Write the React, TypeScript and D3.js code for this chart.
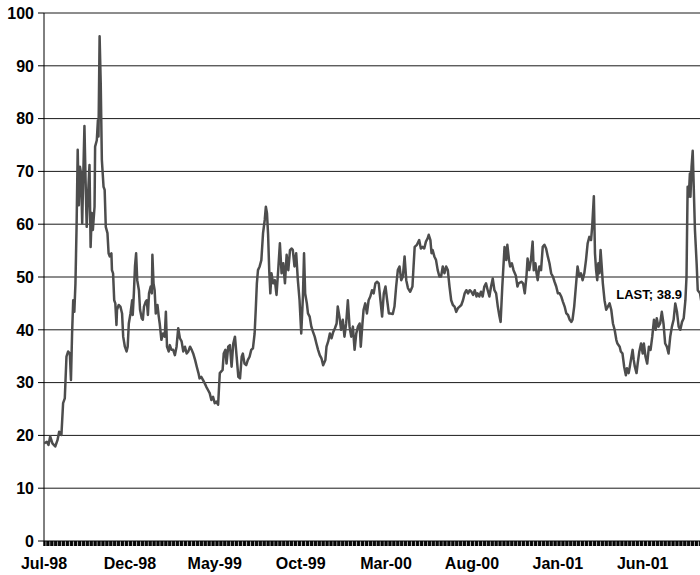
import React from "react";
import * as d3 from "d3";

// Series: implied volatility, days since 1 Jul 1998 and value
const START = "1998-07-01";
const END = "2001-09-11";
const dayOffsets = [
  0, 5, 8, 11, 15, 20, 24, 27, 31, 34, 37, 40, 43, 46, 48, 50, 52, 54, 56, 58, 60, 62, 64, 66, 68, 70, 72, 74, 76, 78,
  81, 83, 85, 87, 90, 91, 94, 96, 97, 99, 101, 103, 106, 108, 110, 113, 115, 117, 120, 121, 123, 125, 127, 129, 130,
  133, 136, 139, 141, 144, 147, 149, 151, 154, 157, 158, 160, 162, 164, 166, 169, 171, 174, 176, 178, 181, 183, 185,
  187, 190, 192, 193, 195, 197, 199, 202, 204, 206, 209, 212, 215, 217, 219, 222, 224, 227, 230, 233, 236, 239, 242,
  245, 248, 251, 254, 257, 260, 263, 266, 269, 272, 275, 277, 280, 283, 286, 289, 292, 295, 298, 301, 304, 307, 310,
  313, 318, 320, 323, 325, 328, 331, 334, 337, 340, 343, 346, 349, 352, 354, 357, 360, 363, 366, 369, 372, 375, 377,
  379, 381, 384, 387, 390, 393, 395, 397, 399, 401, 403, 405, 408, 411, 414, 417, 420, 423, 426, 429, 432, 435, 438,
  441, 443, 446, 449, 452, 455, 458, 461, 463, 465, 468, 470, 473, 476, 479, 482, 485, 488, 491, 494, 497, 501, 503,
  506, 509, 512, 515, 518, 521, 523, 526, 529, 532, 535, 538, 541, 544, 547, 550, 553, 556, 559, 562, 564, 567, 569,
  572, 575, 578, 581, 584, 587, 590, 593, 596, 599, 602, 605, 608, 611, 614, 617, 621, 624, 627, 630, 633, 636, 639,
  642, 645, 648, 652, 656, 658, 660, 664, 668, 671, 674, 677, 680, 683, 685, 688, 690, 692, 695, 698, 701, 704, 707,
  710, 713, 716, 719, 722, 725, 728, 731, 734, 737, 740, 743, 746, 749, 752, 755, 758, 761, 764, 767, 770, 772, 775,
  778, 781, 784, 787, 790, 793, 796, 799, 802, 805, 808, 811, 813, 816, 818, 820, 823, 825, 828, 830, 833, 836, 840,
  843, 845, 850, 853, 856, 859, 861, 864, 867, 870, 872, 875, 877, 879, 882, 885, 888, 891, 894, 897, 900, 903, 906,
  909, 912, 915, 918, 921, 924, 927, 930, 933, 936, 939, 941, 944, 947, 950, 953, 956, 959, 962, 965, 968, 971, 974,
  976, 979, 981, 983, 985, 987, 989, 991, 993, 995, 998, 1001, 1004, 1007, 1010, 1013, 1016, 1019, 1021, 1025, 1027,
  1030, 1033, 1036, 1038, 1041, 1043, 1045, 1048, 1050, 1052, 1055, 1057, 1060, 1063, 1066, 1068, 1071, 1074, 1077,
  1080, 1083, 1086, 1089, 1091, 1094, 1097, 1100, 1103, 1106, 1109, 1112, 1115, 1118, 1121, 1124, 1127, 1130, 1133,
  1136, 1139, 1142, 1144, 1145, 1146, 1148, 1150, 1151, 1153, 1155, 1157, 1159, 1162, 1164, 1168, 1180,
];
const values = [
  18.5, 18.8, 18.2, 19.8, 18.5, 17.9, 19.1, 20.7, 20.1, 26.1, 27.0, 34.9, 35.9, 35.5, 30.5, 39.3, 45.6, 43.4, 48.8, 59.5,
  74.1, 63.6, 70.9, 69.6, 60.2, 69.6, 78.6, 68.4, 59.5, 64.6, 71.2, 55.7, 62.1, 58.9, 63.3, 74.7, 75.9, 79.7, 76.6,
  95.6, 86.7, 72.2, 67.1, 66.5, 59.5, 58.3, 54.5, 53.9, 54.5, 51.3, 50.7, 45.6, 45.0, 40.9, 43.8, 44.7, 44.4, 43.1, 38.7,
  36.8, 35.9, 36.8, 41.2, 43.1, 45.6, 42.8, 46.9, 52.0, 54.5, 49.4, 47.5, 43.8, 42.2, 41.9, 44.4, 45.3, 45.6, 42.8,
  46.9, 48.2, 46.9, 54.2, 48.8, 47.5, 43.1, 44.7, 42.8, 41.2, 38.1, 39.3, 38.7, 43.4, 36.8, 35.9, 37.1, 36.2, 36.2,
  35.2, 36.8, 40.3, 38.4, 37.8, 35.9, 36.8, 35.5, 35.9, 36.8, 36.2, 35.4, 34.3, 33.0, 31.8, 30.8, 31.1, 30.5, 29.9,
  29.2, 28.6, 28.0, 26.7, 27.3, 26.1, 26.4, 25.8, 31.8, 32.4, 35.5, 36.2, 33.6, 36.8, 37.1, 33.0, 37.4, 38.7, 34.9,
  31.1, 30.8, 34.9, 35.5, 33.6, 33.3, 34.3, 34.9, 36.2, 36.5, 39.3, 43.8, 48.8, 51.3, 52.0, 53.2, 58.3, 60.8, 63.3,
  62.1, 58.0, 51.3, 46.9, 50.7, 48.8, 49.4, 46.6, 51.3, 56.4, 50.7, 52.6, 48.8, 54.2, 51.3, 55.1, 55.4, 55.1, 52.0,
  54.5, 49.4, 45.6, 39.3, 46.3, 54.5, 46.9, 45.0, 43.1, 42.5, 40.6, 39.6, 38.7, 37.4, 36.2, 35.2, 34.6, 33.3, 34.3,
  36.8, 37.8, 39.3, 38.4, 39.6, 40.3, 41.2, 44.4, 42.5, 40.0, 41.9, 38.7, 41.2, 45.6, 40.6, 38.7, 40.6, 36.2, 39.3,
  40.6, 41.2, 36.8, 41.2, 43.8, 45.0, 43.1, 45.6, 46.3, 47.5, 46.9, 48.8, 49.1, 48.8, 45.6, 42.5, 46.9, 48.2, 45.6,
  43.1, 43.1, 43.0, 44.4, 48.2, 51.3, 52.0, 49.4, 50.1, 53.9, 49.4, 47.9, 47.2, 48.2, 52.0, 55.7, 56.1, 57.0, 55.4,
  55.7, 55.4, 56.7, 57.3, 58.0, 57.0, 54.5, 55.1, 53.9, 53.2, 51.3, 50.1, 50.1, 52.0, 50.7, 52.0, 51.3, 48.2, 45.6,
  44.7, 44.4, 43.4, 44.1, 44.4, 44.7, 45.6, 46.9, 47.5, 46.9, 47.5, 47.2, 46.6, 47.5, 46.3, 46.9, 46.3, 47.2, 46.3,
  48.2, 48.8, 47.5, 46.3, 48.2, 49.7, 47.5, 46.9, 44.4, 42.5, 41.5, 48.2, 52.0, 55.7, 53.2, 56.1, 53.2, 52.0, 52.6,
  51.3, 50.3, 48.2, 48.8, 49.1, 48.8, 46.9, 50.1, 53.5, 51.3, 53.2, 56.7, 51.3, 52.6, 50.7, 49.4, 52.0, 51.3, 55.7,
  56.1, 55.4, 53.9, 52.6, 50.7, 50.1, 49.1, 48.2, 46.9, 46.9, 46.3, 45.3, 44.4, 43.1, 42.8, 41.9, 41.5, 41.9, 44.4,
  48.2, 52.0, 50.1, 50.7, 49.4, 50.7, 53.2, 56.4, 57.6, 57.0, 59.5, 65.3, 54.5, 51.3, 49.4, 52.6, 50.7, 55.1, 52.0,
  48.8, 45.6, 43.8, 44.4, 45.0, 43.8, 41.2, 40.0, 38.1, 37.4, 36.8, 35.9, 35.5, 33.0, 31.4, 32.7, 31.8, 33.0, 34.3,
  36.2, 34.3, 33.0, 31.8, 33.6, 35.9, 37.4, 35.5, 37.4, 34.9, 33.6, 36.8, 36.2, 38.7, 41.9, 40.0, 42.2, 40.6, 41.2,
  43.4, 41.2, 37.4, 36.8, 35.5, 38.7, 40.6, 41.9, 45.0, 43.4, 40.6, 40.0, 41.5, 42.2, 45.6, 50.1, 58.9, 67.1, 65.2,
  69.6, 65.2, 70.9, 73.9, 66.5, 58.9, 52.6, 47.5, 46.9, 38.9,
];

const yTicks = [0, 10, 20, 30, 40, 50, 60, 70, 80, 90, 100];
const xTickDates = ["1998-07-01", "1998-12-01", "1999-05-01", "1999-10-01", "2000-03-01", "2000-08-01", "2001-01-01", "2001-06-01"];
const xTickLabels = ["Jul-98", "Dec-98", "May-99", "Oct-99", "Mar-00", "Aug-00", "Jan-01", "Jun-01"];
const lastText = "LAST; 38.9";
const lastLabelAt = { day: 1136, value: 45.8 };

const parse = d3.timeParse("%Y-%m-%d");

export default function App() {
  const W = 700;
  const H = 575;
  const left = 44;
  const top = 13;
  const bottom = 541;
  const start = parse(START) as Date;
  const end = parse(END) as Date;

  const x = d3.scaleTime().domain([start, end]).range([left, W]);
  const y = d3.scaleLinear().domain([0, 100]).range([bottom, top]);

  const data = dayOffsets.map((d, i) => ({ date: d3.timeDay.offset(start, d), v: values[i] }));
  const line = d3
    .line<{ date: Date; v: number }>()
    .x((d) => x(d.date))
    .y((d) => y(d.v));

  const tradingDays = d3.timeDay.range(start, end).filter((d) => d.getDay() !== 0 && d.getDay() !== 6);
  const font = "'Liberation Sans', Arial, Helvetica, sans-serif";

  return (
    <div style={{ position: "fixed", left: 0, top: 0, width: W, height: H, background: "#fff" }}>
      <svg width={W} height={H} style={{ display: "block" }}>
        <defs>
          <clipPath id="plot">
            <rect x={left} y={0} width={W - left} height={bottom + 1} />
          </clipPath>
        </defs>
        {yTicks.map((t) => (
          <g key={t}>
            {t > 0 && <line x1={left} x2={W} y1={y(t)} y2={y(t)} stroke="#1a1a1a" strokeWidth={1} />}
            <line x1={left - 6} x2={left} y1={y(t)} y2={y(t)} stroke="#000" strokeWidth={1} />
            <text
              x={left - 10}
              y={y(t)}
              dy="0.36em"
              textAnchor="end"
              fontFamily={font}
              fontWeight="bold"
              fontSize={16}
              fill="#000"
            >
              {t}
            </text>
          </g>
        ))}
        <line x1={left} x2={left} y1={top} y2={bottom + 5} stroke="#000" strokeWidth={1} />
        <line x1={left} x2={W} y1={bottom} y2={bottom} stroke="#000" strokeWidth={1.2} />
        {tradingDays.map((d, i) => (
          <line key={i} x1={x(d)} x2={x(d)} y1={bottom} y2={bottom + 5} stroke="#000" strokeWidth={1} />
        ))}
        {xTickDates.map((s, i) => (
          <text
            key={s}
            x={x(parse(s) as Date)}
            y={bottom + 28}
            textAnchor="middle"
            fontFamily={font}
            fontWeight="bold"
            fontSize={16}
            fill="#000"
          >
            {xTickLabels[i]}
          </text>
        ))}
        <g clipPath="url(#plot)">
          <path d={line(data) || ""} fill="none" stroke="#4d4d4d" strokeWidth={2.5} strokeLinejoin="round" />
        </g>
        <text
          x={x(d3.timeDay.offset(start, lastLabelAt.day))}
          y={y(lastLabelAt.value)}
          textAnchor="end"
          fontFamily={font}
          fontWeight="bold"
          fontSize={13}
          fill="#000"
        >
          {lastText}
        </text>
      </svg>
    </div>
  );
}
